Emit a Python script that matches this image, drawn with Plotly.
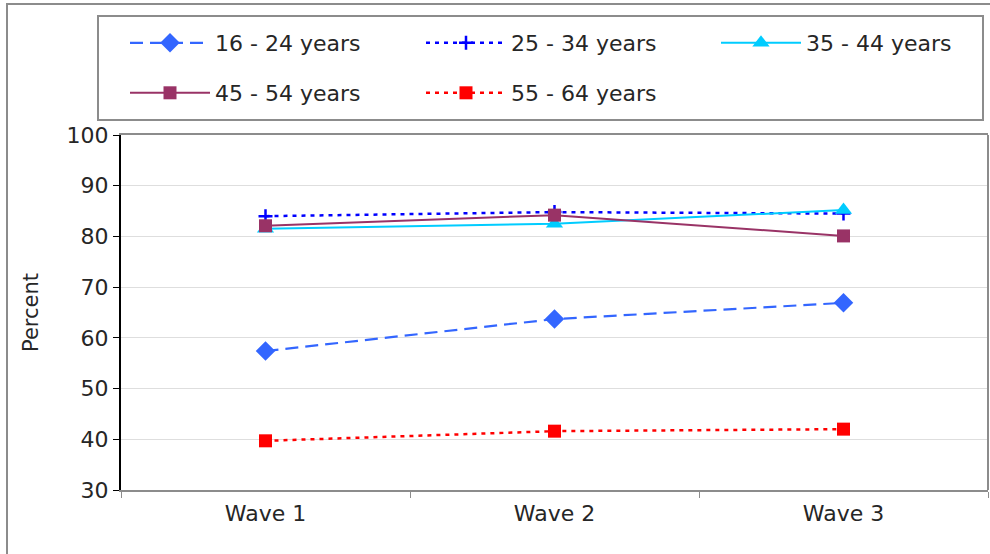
import plotly.graph_objects as go

waves = ["Wave 1", "Wave 2", "Wave 3"]
age_16_24 = [57.4, 63.7, 66.9]
age_25_34 = [84.0, 84.8, 84.5]
age_35_44 = [81.5, 82.5, 85.2]
age_45_54 = [82.1, 84.2, 80.1]
age_55_64 = [39.7, 41.6, 42.0]
y_ticks = [30, 40, 50, 60, 70, 80, 90, 100]

FONT = "DejaVu Sans"
TXT = "#262626"
fig = go.Figure()

series = [
    ("16 - 24 years", age_16_24, "#3366FF", "13px,7px", 2.2, dict(symbol="diamond", size=15)),
    ("25 - 34 years", age_25_34, "#0000FF", "4px,5px", 2.5, dict(symbol="cross-thin", size=10, line=dict(width=2.5, color="#0000FF"))),
    ("35 - 44 years", age_35_44, "#00CCFF", "solid", 2, dict(symbol="triangle-up", size=15)),
    ("45 - 54 years", age_45_54, "#993366", "solid", 2, dict(symbol="square", size=13)),
    ("55 - 64 years", age_55_64, "#FF0000", "4px,5px", 2.5, dict(symbol="square", size=13)),
]
legend_ids = ["legend", "legend2", "legend3", "legend4", "legend5"]
for (name, vals, col, dash, w, mk), lg in zip(series, legend_ids):
    mk = dict(mk, color=col)
    fig.add_trace(go.Scatter(x=waves, y=vals, name=name, mode="lines+markers", legend=lg,
                             line=dict(color=col, dash=dash, width=w), marker=mk))

W, H = 990, 554
L, R, T, B = 121, 988, 135, 490
pw, ph = R - L, B - T

def px_x(x):
    return (x - L) / pw

def px_y(y):
    return (B - y) / ph

shapes = [
    dict(type="rect", xref="paper", yref="paper", x0=px_x(7), x1=px_x(1000), y0=px_y(565), y1=px_y(4),
         line=dict(color="#8c8c8c", width=2), layer="below"),
    dict(type="rect", xref="paper", yref="paper", x0=px_x(98), x1=px_x(983), y0=px_y(120), y1=px_y(16),
         line=dict(color="#8c8c8c", width=2), layer="below"),
    dict(type="line", xref="paper", yref="paper", x0=1, x1=1, y0=0, y1=1,
         line=dict(color="#8c8c8c", width=2)),
]

leg_common = dict(orientation="h", xanchor="left", yanchor="top",
                  font=dict(family=FONT, size=22, color=TXT),
                  bgcolor="rgba(0,0,0,0)", itemwidth=80)
leg_x = [125, 421, 716, 125, 421]
leg_y = [22, 22, 22, 72, 72]
legend_layout = {lid: dict(leg_common, x=px_x(lx), y=px_y(ly))
                 for lid, lx, ly in zip(legend_ids, leg_x, leg_y)}

fig.update_layout(
    width=W, height=H,
    margin=dict(l=L, r=W - R, t=T, b=H - B),
    paper_bgcolor="white", plot_bgcolor="white",
    font=dict(family=FONT, size=20, color=TXT),
    shapes=shapes,
    showlegend=True,
    xaxis=dict(type="category", range=[-0.5, 2.5], tickson="boundaries",
               showline=True, linecolor="#8c8c8c", linewidth=2, mirror=True,
               ticks="outside", ticklen=6, tickcolor="#8c8c8c", tickwidth=1,
               ticklabelstandoff=3,
               showgrid=False, tickfont=dict(family=FONT, size=22, color=TXT)),
    yaxis=dict(range=[30, 100], tickvals=y_ticks, showline=True, linecolor="#000000", linewidth=2,
               ticks="outside", ticklen=6, tickcolor="#000000", tickwidth=1,
               showgrid=True, gridcolor="#dedede", gridwidth=1, zeroline=False,
               tickfont=dict(family=FONT, size=22, color=TXT),
               title=dict(text="Percent", font=dict(family=FONT, size=21, color=TXT), standoff=22)),
    **legend_layout,
)

fig.write_html("out.html")
